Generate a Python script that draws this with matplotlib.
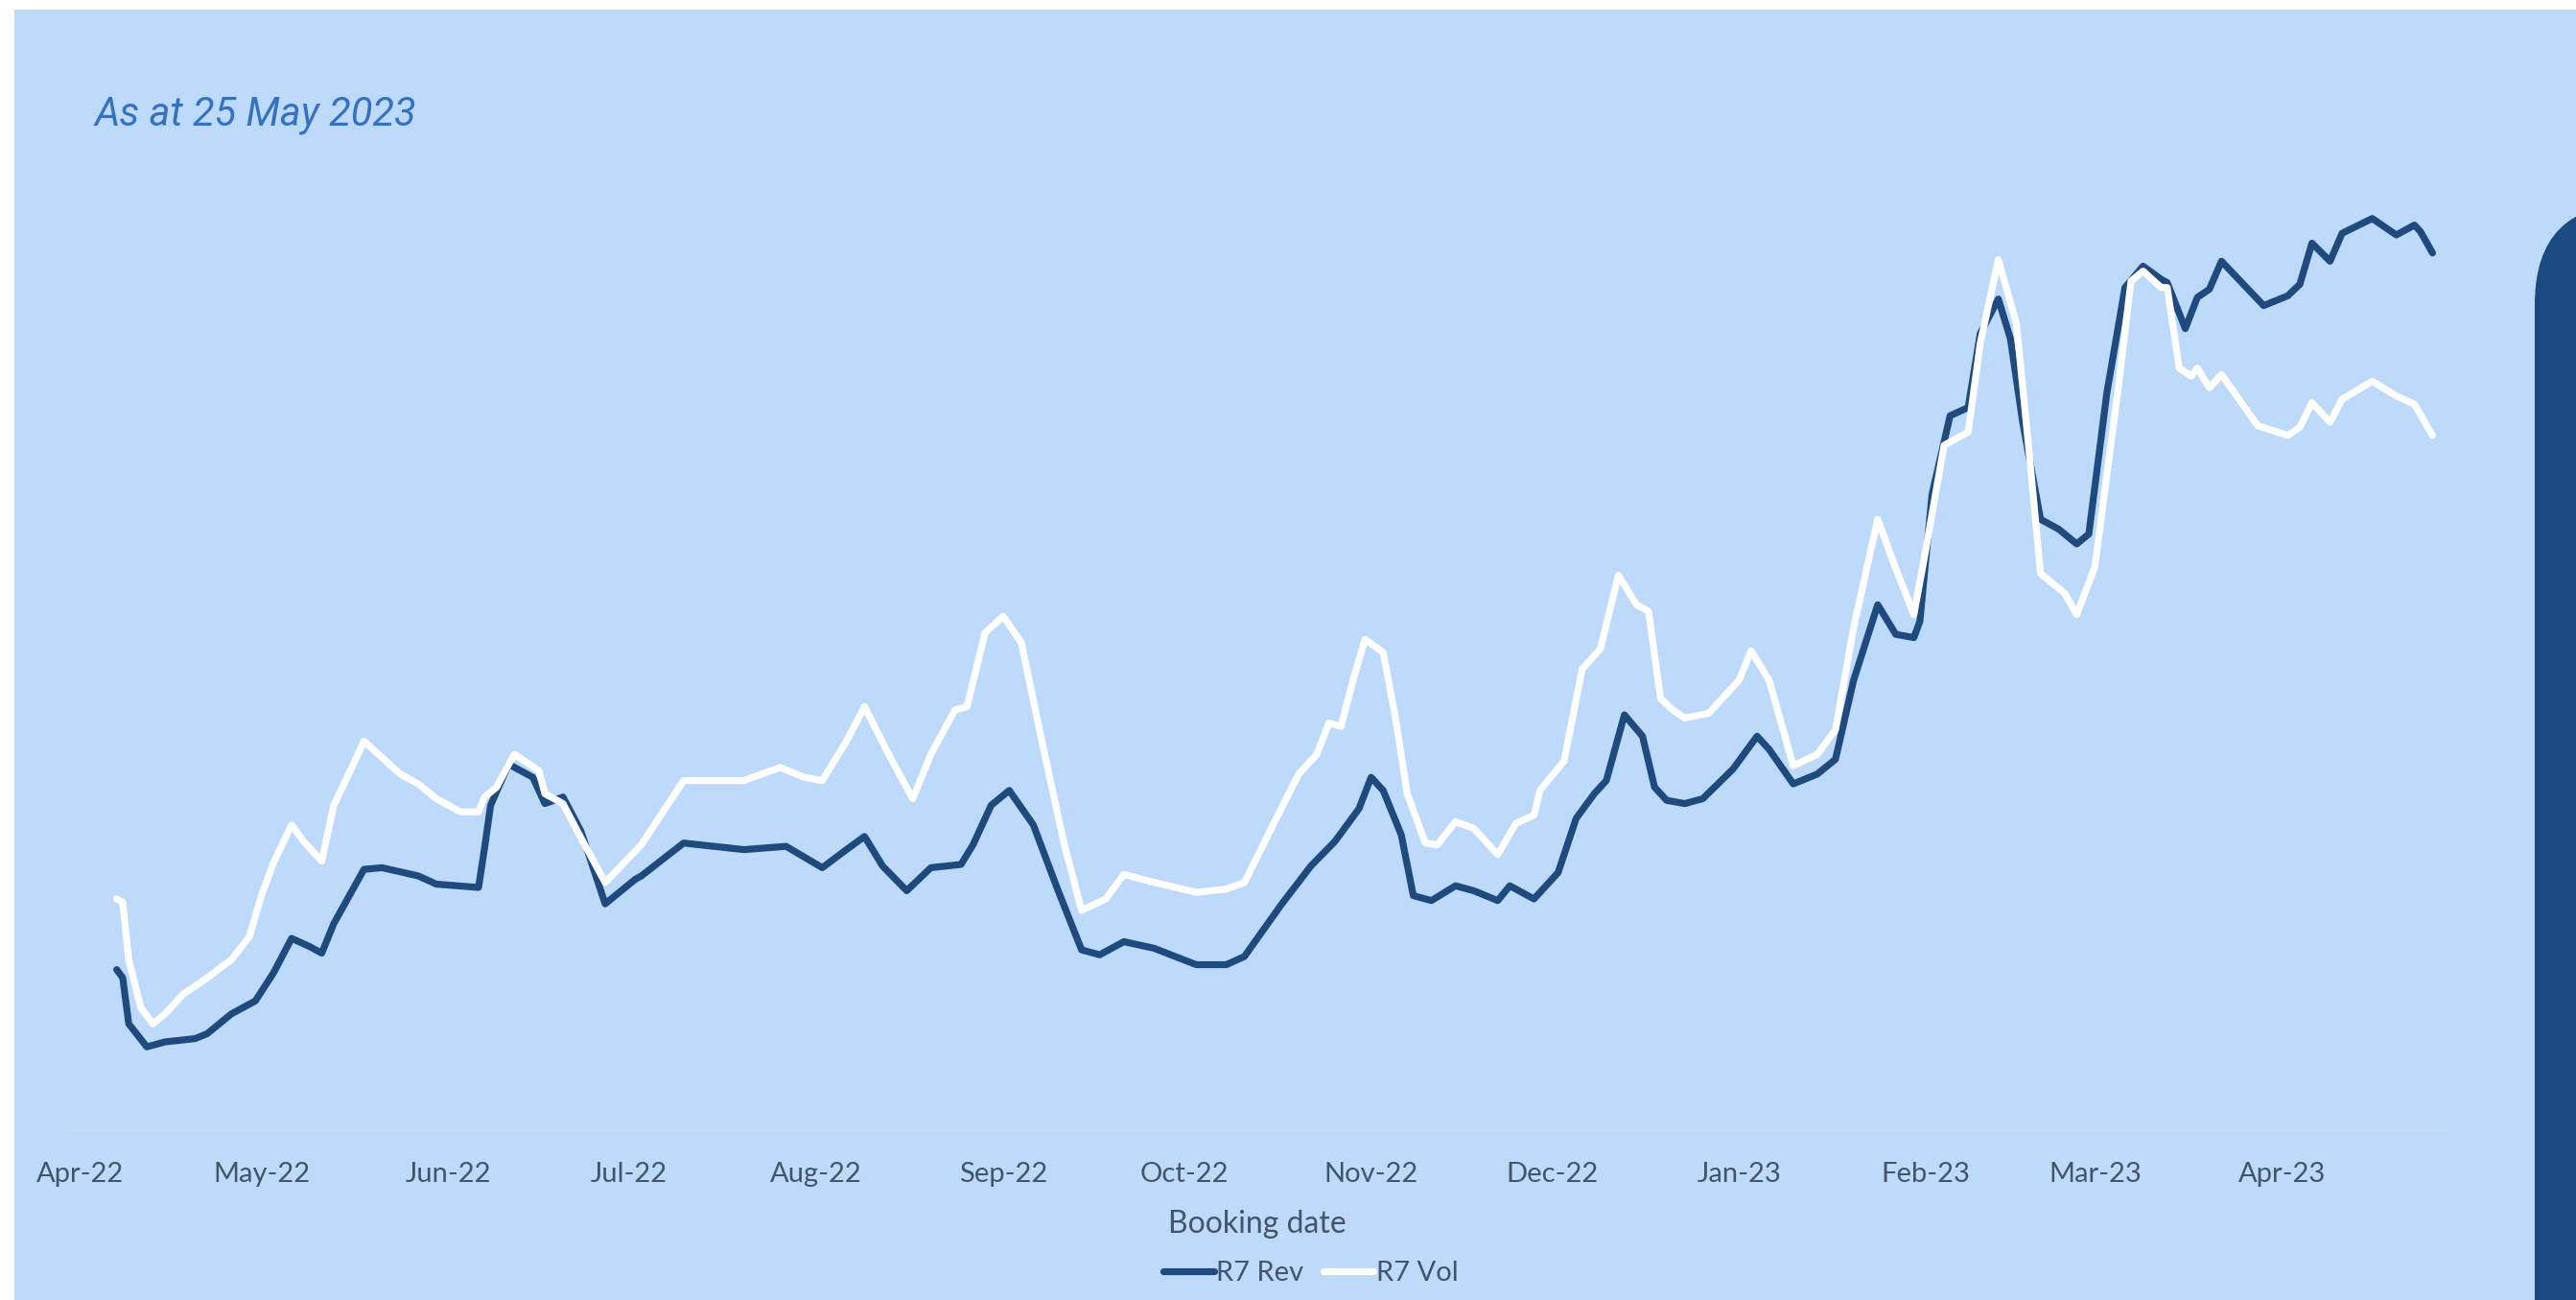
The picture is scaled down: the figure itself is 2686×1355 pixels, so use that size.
import matplotlib
matplotlib.use("Agg")
import matplotlib.pyplot as plt
import matplotlib.dates as mdates
from matplotlib.patches import Rectangle, FancyBboxPatch
import numpy as np
import pandas as pd

# ---------------- data (7-day rolling index, arbitrary units) ----------------
START = "2022-04-01"   # day 0

rev_day = [6, 7, 8, 11, 14, 19, 21, 25, 29, 32, 35, 38, 40, 42, 47, 50, 56, 59, 66, 67,
           68, 71, 75, 77, 80, 83, 87, 92, 93, 100, 110, 117, 123, 127, 130, 133, 137, 141, 146, 148,
           151, 154, 158, 162, 166, 169, 173, 178, 185, 190, 193, 199, 204, 208, 212, 214, 216, 219, 221, 224,
           228, 231, 235, 237, 241, 245, 248, 251, 253, 256, 259, 261, 263, 266, 269, 274, 278, 280, 284, 288,
           291, 294, 298, 301, 304, 305, 307, 310, 313, 315, 318, 320, 322, 325, 328, 331, 333, 336, 339, 342,
           345, 346, 349, 351, 353, 355, 362, 366, 368, 370, 373, 375, 380, 384, 387, 388, 390]
rev_val = [110, 105, 77, 63, 66, 68, 71, 83, 91, 108, 129, 124, 120, 138, 171, 172, 167, 162, 160, 184,
           210, 235, 227, 211, 215, 194, 150, 165, 167, 187, 183, 185, 172, 183, 191, 173, 158, 172, 174, 186,
           210, 219, 198, 159, 122, 119, 127, 123, 113, 113, 118, 149, 173, 188, 208, 227, 219, 192, 155, 152,
           161, 158, 152, 161, 153, 169, 202, 217, 225, 265, 252, 221, 213, 211, 214, 232, 252, 244, 223, 229,
           238, 286, 332, 314, 312, 322, 399, 447, 452, 497, 518, 494, 444, 384, 378, 369, 375, 461, 525, 538,
           530, 528, 500, 519, 524, 541, 514, 520, 527, 552, 541, 558, 567, 557, 563, 559, 546]

vol_day = [6, 7, 8, 10, 12, 14, 17, 21, 25, 28, 30, 32, 35, 37, 40, 42, 45, 47, 50, 53,
           56, 59, 63, 66, 67, 69, 71, 72, 76, 77, 80, 83, 87, 93, 100, 110, 116, 120, 123, 127,
           130, 134, 138, 141, 145, 147, 150, 153, 156, 159, 163, 166, 170, 173, 177, 185, 190, 193, 198, 202,
           205, 207, 209, 211, 213, 216, 218, 220, 223, 225, 228, 231, 235, 238, 241, 242, 246, 249, 252, 255,
           258, 260, 262, 264, 266, 270, 275, 277, 280, 284, 288, 291, 294, 298, 301, 304, 306, 309, 313, 315,
           318, 321, 323, 325, 329, 331, 334, 336, 338, 340, 342, 345, 346, 348, 350, 351, 353, 355, 361, 366,
           368, 370, 373, 375, 380, 384, 387, 390]
vol_val = [153, 151, 116, 87, 77, 83, 95, 105, 116, 130, 155, 175, 198, 188, 176, 210, 233, 249, 239, 229,
           223, 214, 206, 206, 215, 221, 235, 241, 231, 217, 211, 190, 163, 186, 225, 225, 233, 227, 225, 249,
           270, 241, 214, 241, 268, 270, 315, 325, 309, 256, 188, 146, 153, 168, 164, 157, 159, 163, 200, 229,
           241, 260, 258, 286, 311, 303, 264, 217, 187, 186, 200, 196, 180, 199, 204, 219, 237, 293, 305, 350,
           332, 328, 275, 268, 263, 266, 286, 304, 286, 234, 241, 256, 318, 384, 354, 326, 366, 429, 437, 491,
           542, 503, 429, 351, 339, 326, 355, 411, 467, 529, 535, 525, 525, 476, 471, 476, 464, 472, 441, 435,
           440, 455, 443, 457, 468, 459, 454, 435]

tick_labels = ["Apr-22", "May-22", "Jun-22", "Jul-22", "Aug-22", "Sep-22", "Oct-22",
               "Nov-22", "Dec-22", "Jan-23", "Feb-23", "Mar-23", "Apr-23"]
series_names = ["R7 Rev", "R7 Vol"]
subtitle = "As at 25 May 2023"
x_title = "Booking date"

# ---------------- styling ----------------
W, H, DPI = 2686, 1355, 100
BG = "#BDDAFB"
PANEL = "#1B4A82"
REV_C = "#1F4A7E"
VOL_C = "#FFFFFF"
TXT = "#44546A"

fig = plt.figure(figsize=(W / DPI, H / DPI), dpi=DPI, facecolor="white")

# light-blue slide background (thin white border top/left)
fig.add_artist(Rectangle((15, 0), W, H - 10, transform=None,
                         facecolor=BG, edgecolor="none", zorder=-10))

# dark rounded panel at right edge
R = 105
x0, ytop = 2643, H - 212
fig.add_artist(FancyBboxPatch((x0 + R, -300 + R), (W + 300) - (x0 + R) - R, (ytop - R) - (-300 + R),
                              boxstyle=f"round,pad={R}", transform=None,
                              facecolor=PANEL, edgecolor="none", zorder=5))

start = pd.Timestamp(START)
rev_dates = (start + pd.to_timedelta(rev_day, unit="D")).to_pydatetime()
vol_dates = (start + pd.to_timedelta(vol_day, unit="D")).to_pydatetime()

ax = fig.add_axes([73 / W, 177 / H, (2549 - 73) / W, (1178 - 200) / H])
ax.set_facecolor("none")
ax.plot(rev_dates, rev_val, color=REV_C, lw=5.2, solid_joinstyle="round",
        solid_capstyle="round", label=series_names[0], zorder=3)
ax.plot(vol_dates, vol_val, color=VOL_C, lw=5.2, solid_joinstyle="round",
        solid_capstyle="round", label=series_names[1], zorder=4)

ax.set_xlim(mdates.date2num(start - pd.Timedelta(days=1.74)),
            mdates.date2num(start + pd.Timedelta(days=392)))
ax.set_ylim(12.3, 583.2)

ticks = pd.date_range(start, periods=len(tick_labels), freq="MS")
ax.set_xticks(mdates.date2num(ticks.to_pydatetime()))
ax.set_xticklabels(tick_labels, fontfamily="Lato", fontsize=21, color=TXT)
ax.tick_params(axis="x", length=0, pad=24)
ax.set_yticks([])
for s in ["left", "right", "top"]:
    ax.spines[s].set_visible(False)
ax.spines["bottom"].set_color("#C8DCF3")
ax.spines["bottom"].set_linewidth(2)

fig.text(99 / W, 1 - 130 / H, subtitle, fontfamily="Roboto", style="italic",
         fontsize=30, color="#3572C0", ha="left", va="baseline")

fig.text(1311 / W, 1 - 1276 / H, x_title, fontfamily="Lato", fontsize=23,
         color=TXT, ha="center", va="center")

handles, labels = ax.get_legend_handles_labels()
fig.legend(handles, labels, loc="center", bbox_to_anchor=(1367 / W, 1 - 1327 / H),
           ncol=2, frameon=False, prop={"family": "Lato", "size": 21},
           handlelength=1.8, handletextpad=0.1, columnspacing=0.7, labelcolor=TXT)

fig.savefig("out.png", dpi=DPI, facecolor="white")
